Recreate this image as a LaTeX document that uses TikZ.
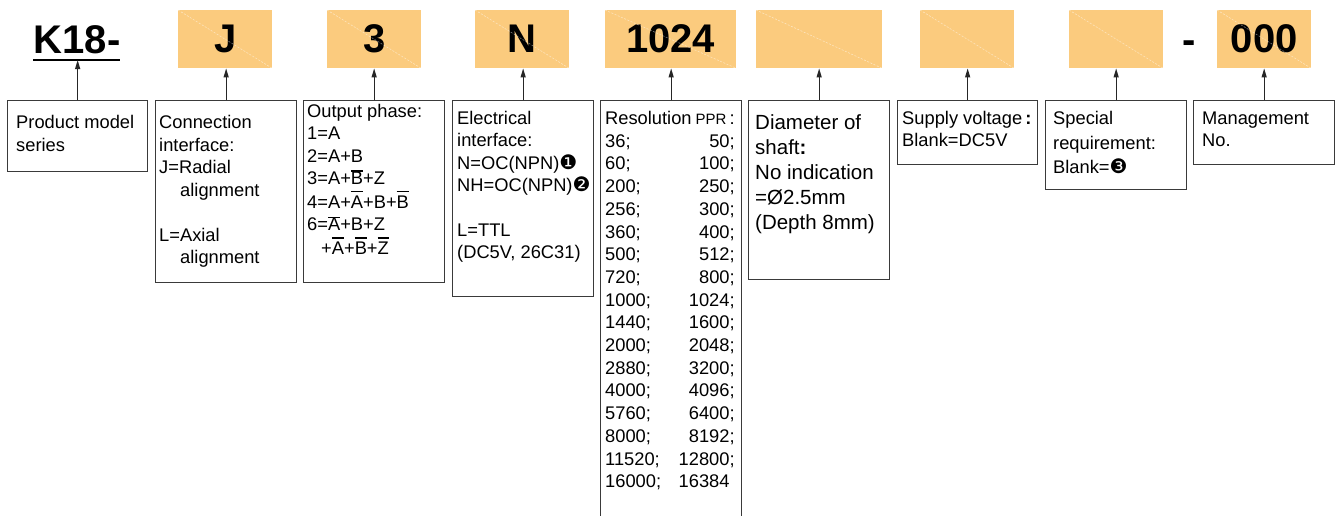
\documentclass[tikz,border=0pt]{standalone}
\usepackage{fontspec}
\setmainfont{Liberation Sans}
\newfontfamily\djv{DejaVu Sans}
\usetikzlibrary{arrows.meta}
\definecolor{orgfill}{HTML}{FBCB7E}
\definecolor{boxc}{HTML}{3A3A3A}
\newcommand\bigf{\fontsize{40}{48}\selectfont\bfseries}
\newcommand\txtf{\fontsize{18.3}{22.5}\selectfont}
\newcommand\ovl[1]{\sbox0{#1}\rlap{\rule[0.88em]{\wd0}{0.065em}}#1}
\newcommand\capl[1]{\sbox0{#1}\rlap{\rule[0.70em]{\wd0}{0.06em}}#1}
\newcommand\dng[1]{{\djv\fontsize{20}{22}\selectfont #1}}
\newcommand\rw[2]{\makebox[129.5pt][s]{#1\hfill #2}}
\begin{document}
\begin{tikzpicture}[x=1pt,y=-1pt,
  obox/.style={fill=orgfill, minimum height=58pt, inner sep=0pt, font=\bigf, anchor=north west},
  lbox/.style={draw=boxc, line width=1.3pt, anchor=north west, inner sep=0pt},
  txt/.style={anchor=base west, inner sep=0pt, font=\txtf},
  arr/.style={draw=black!85, line width=1.2pt, -{Triangle[length=9pt,width=5pt]}},
  diag/.style={draw=white, opacity=0.55, line width=0.5pt, dash pattern=on 2pt off 1.5pt}]
\useasboundingbox (0,0) rectangle (1335,515);
\clip (0,0) rectangle (1335,515);
\fill[white] (0,0) rectangle (1335,515);

% top row
\node[font=\bigf, inner sep=0pt, anchor=base] (k) at (77,53.5) {K18-};
\coordinate (ku1) at (33,60);
\coordinate (ku2) at (120,60);
\draw[line width=1.3pt] (ku1) -- (ku2);

\node[obox, minimum width=94pt] (oJ) at (178,10) {J};
\node[obox, minimum width=94pt] (o3) at (327,10) {3};
\node[obox, minimum width=94pt] (oN) at (475,10) {N};
\node[obox, minimum width=131pt] (o1024) at (605,10) {1024};
\node[obox, minimum width=126pt] (oS) at (756,10) {};
\node[obox, minimum width=94pt] (oV) at (920,10) {};
\node[obox, minimum width=94pt] (oR) at (1069,10) {};
\node[font=\bigf, inner sep=0pt, anchor=base] (dash) at (1189,53.5) {-};
\node[obox, minimum width=94pt] (o000) at (1217,10) {000};
\foreach \n in {oJ,o3,oN,o1024,oS,oV,oR,o000}{
  \draw[diag] (\n.north west) -- (\n.south east);
}

% lower boxes
\node[lbox, minimum width=140pt, minimum height=71pt] (b1) at (7,100) {};
\node[lbox, minimum width=141pt, minimum height=182pt] (b2) at (155,100) {};
\node[lbox, minimum width=141pt, minimum height=182pt] (b3) at (303,100) {};
\node[lbox, minimum width=141pt, minimum height=196pt] (b4) at (452,100) {};
\node[lbox, minimum width=141pt, minimum height=430pt] (b5) at (600,100) {};
\node[lbox, minimum width=141pt, minimum height=179pt] (b6) at (748,100) {};
\node[lbox, minimum width=140pt, minimum height=64pt] (b7) at (897,100) {};
\node[lbox, minimum width=141pt, minimum height=89pt] (b8) at (1045,100) {};
\node[lbox, minimum width=141pt, minimum height=64pt] (b9) at (1193,100) {};

% arrows
\draw[arr] (b1.north) -- (b1.north |- ku1);
\draw[arr] (b2.north) -- (b2.north |- oJ.south);
\draw[arr] (b3.north) -- (b3.north |- o3.south);
\draw[arr] (b4.north) -- (b4.north |- oN.south);
\draw[arr] (b5.north) -- (b5.north |- o1024.south);
\draw[arr] (b6.north) -- (b6.north |- oS.south);
\draw[arr] (b7.north) -- (b7.north |- oV.south);
\draw[arr] (b8.north) -- (b8.north |- oR.south);
\draw[arr] (b9.north) -- (b9.north |- o000.south);

% texts
\node[txt] (t1) at (16,128.5) {\fontsize{18.3}{23}\selectfont\begin{tabular}[t]{@{}l@{}}Product model\\series\end{tabular}};
\node[txt] (t2) at (159,128.5) {\begin{tabular}[t]{@{}l@{}}Connection\\interface:\\J=Radial\\\hspace*{21pt}alignment\\ \\L=Axial\\\hspace*{21pt}alignment\end{tabular}};
\node[txt] (t3) at (307,117.5) {\fontsize{18.3}{22.3}\selectfont\begin{tabular}[t]{@{}l@{}}Output phase:\\1=A\\2=A+B\\3=A+\capl{B}+Z\\4=A+\ovl{A}+B+\ovl{B}\\6=\capl{A}+B+Z\\\hspace*{14pt}+\ovl{A}+\ovl{B}+\ovl{Z}\end{tabular}};
\node[txt] (t4) at (457,124.5) {\fontsize{18.3}{22.3}\selectfont\begin{tabular}[t]{@{}l@{}}Electrical\\interface:\\N=OC(NPN)\dng{❶}\\NH=OC(NPN)\dng{❷}\\ \\L=TTL\\(DC5V, 26C31)\end{tabular}};
\node[txt] (t5) at (605,124.5) {\fontsize{18.3}{22.7}\selectfont\begin{tabular}[t]{@{}l@{}}\rw{Resolution}{{\fontsize{15}{18}\selectfont PPR}\,:}\\
\rw{36;}{50;}\\\rw{60;}{100;}\\\rw{200;}{250;}\\\rw{256;}{300;}\\\rw{360;}{400;}\\\rw{500;}{512;}\\\rw{720;}{800;}\\\rw{1000;}{1024;}\\\rw{1440;}{1600;}\\\rw{2000;}{2048;}\\\rw{2880;}{3200;}\\\rw{4000;}{4096;}\\\rw{5760;}{6400;}\\\rw{8000;}{8192;}\\\rw{11520;}{12800;}\\\rw{16000;}{16384\phantom{;}}\end{tabular}};
\node[txt] (t6) at (755,129.5) {\fontsize{20.5}{25}\selectfont\begin{tabular}[t]{@{}l@{}}Diameter of\\shaft\textbf{:}\\No indication\\=Ø2.5mm\\(Depth 8mm)\end{tabular}};
\node[txt] (t7) at (902,124.5) {\fontsize{18.3}{22}\selectfont\begin{tabular}[t]{@{}l@{}}Supply voltage\,\textbf{:}\\Blank=DC5V\end{tabular}};
\node[txt] (t8) at (1053,124.5) {\fontsize{18.3}{24.5}\selectfont\begin{tabular}[t]{@{}l@{}}Special\\requirement:\\Blank=\dng{❸}\end{tabular}};
\node[txt] (t9) at (1202,124.5) {\fontsize{18.3}{22}\selectfont\begin{tabular}[t]{@{}l@{}}Management\\No.\end{tabular}};
\end{tikzpicture}
\end{document}
